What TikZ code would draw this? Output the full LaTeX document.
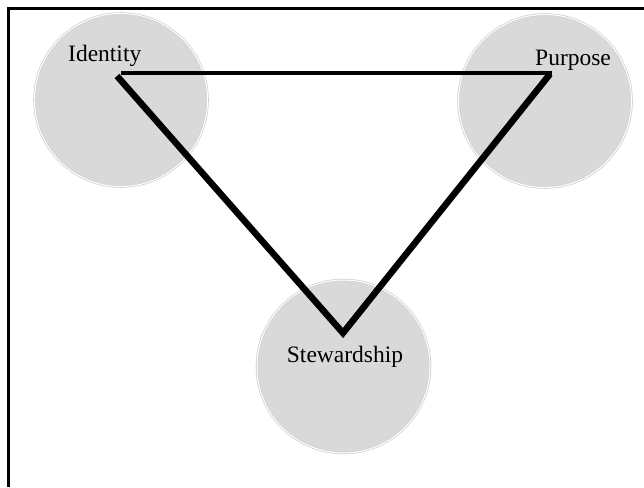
\documentclass[tikz,border=0pt]{standalone}
\usepackage{fontspec}
\setmainfont{Liberation Serif}
\definecolor{discfill}{HTML}{D9D9D9}
\definecolor{discrim}{HTML}{D2D2D2}
\begin{document}
\begin{tikzpicture}[x=1pt,y=-1pt,
  disc/.style={circle,fill=discfill,draw=discrim,line width=0.8pt,double=white,double distance=1pt,minimum size=173pt,inner sep=0pt},
  lab/.style={inner sep=0pt,anchor=base west,font=\fontsize{23.5}{26}\selectfont},
  side/.style={line width=6.5pt,line join=miter},
  topside/.style={line width=4pt}]
\useasboundingbox (0,0) rectangle (644,487);
\draw[line width=2.5pt,black] (8.5,487) -- (8.5,8.5) -- (644,8.5);
\node[disc] (idc) at (121,100) {};
\node[disc] (puc) at (545,101) {};
\node[disc] (stc) at (343.5,366.5) {};
\node[lab] (idl) at (68,61) {Identity};
\node[lab] (pul) at (535,65) {Purpose};
\node[lab,anchor=base] (stl) at (345,362) {Stewardship};
\coordinate (vI) at (117,76);
\coordinate (vIh) at (121,73);
\coordinate (vP) at (550,74);
\coordinate (vPh) at (552,73);
\coordinate (vS) at (343,333);
\draw[topside] (vIh) -- (vPh);
\draw[side] (vI) -- (vS) -- (vP);
\end{tikzpicture}
\end{document}
